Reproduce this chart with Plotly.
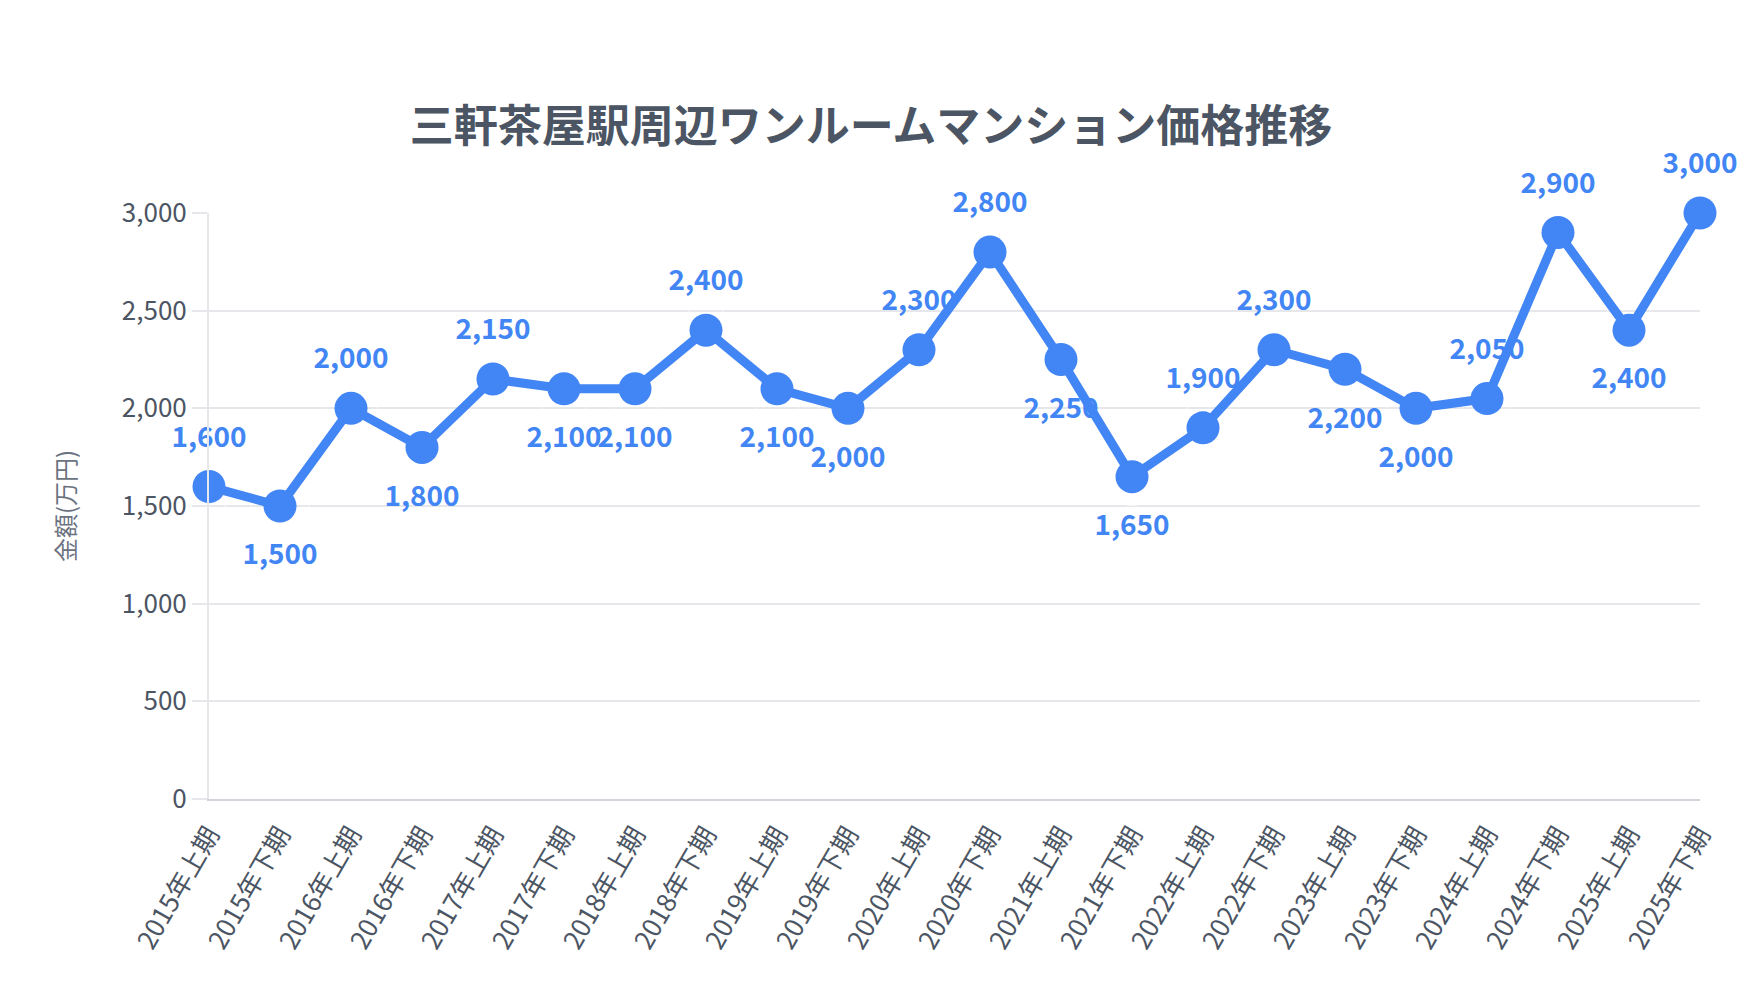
import plotly.graph_objects as go

periods = ["2015年上期", "2015年下期", "2016年上期", "2016年下期", "2017年上期", "2017年下期",
           "2018年上期", "2018年下期", "2019年上期", "2019年下期", "2020年上期", "2020年下期",
           "2021年上期", "2021年下期", "2022年上期", "2022年下期", "2023年上期", "2023年下期",
           "2024年上期", "2024年下期", "2025年上期", "2025年下期"]
prices = [1600, 1500, 2000, 1800, 2150, 2100, 2100, 2400, 2100, 2000, 2300, 2800,
          2250, 1650, 1900, 2300, 2200, 2000, 2050, 2900, 2400, 3000]
label_pos = ["top", "bottom", "top", "bottom", "top", "bottom", "bottom", "top", "bottom", "bottom",
             "top", "top", "bottom", "bottom", "top", "top", "bottom", "bottom", "top", "top",
             "bottom", "top"]
y_ticks = [0, 500, 1000, 1500, 2000, 2500, 3000]

title_text = "三軒茶屋駅周辺ワンルームマンション価格推移"
y_title = "金額(万円)"

FONT = "Noto Sans CJK JP"
BLUE = "#4285F4"

fig = go.Figure()

# data labels (drawn beneath the line)
fig.add_trace(go.Scatter(
    x=periods, y=prices,
    mode="markers+text",
    text=[f"{v:,}" for v in prices],
    textposition=[p + " center" for p in label_pos],
    textfont=dict(family=FONT, size=28, color=BLUE, weight="bold"),
    marker=dict(size=[51 if p == "top" else 58 for p in label_pos], color="rgba(0,0,0,0)"),
    hoverinfo="skip", showlegend=False, cliponaxis=False,
))

fig.add_trace(go.Scatter(
    x=periods, y=prices,
    mode="lines+markers",
    line=dict(color=BLUE, width=9),
    marker=dict(size=33, color=BLUE),
    showlegend=False, cliponaxis=False,
    hovertemplate="%{x}: %{y:,}万円<extra></extra>",
))

fig.update_layout(
    width=1760, height=1000,
    margin=dict(l=209, r=60, t=213, b=201),
    paper_bgcolor="white", plot_bgcolor="white",
    font=dict(family=FONT, color="#4b5563"),
    title=dict(text=title_text, x=871 / 1760, xref="container", xanchor="center",
               y=1 - 127 / 1000, yref="container", yanchor="middle",
               font=dict(family=FONT, size=44, color="#4b5563", weight="bold")),
    xaxis=dict(type="category", range=[0, len(periods) - 1], showgrid=False,
               showline=True, linecolor="#d1d5db", linewidth=2,
               tickangle=-60, tickfont=dict(family=FONT, size=26, color="#4b5563"),
               ticks="outside", ticklen=8, tickcolor="rgba(0,0,0,0)"),
    yaxis=dict(range=[0, 3000], tickvals=y_ticks, tickformat=",",
               showgrid=True, gridcolor="#e5e7eb", gridwidth=2,
               showline=True, linecolor="#e5e7eb", linewidth=2, zeroline=False,
               ticks="outside", ticklen=15, tickcolor="#e5e7eb", tickwidth=2,
               tickfont=dict(family=FONT, size=26, color="#4b5563")),
    annotations=[dict(text=y_title, xref="paper", yref="paper",
                      x=(64 - 209) / 1491, y=0.5, xanchor="center", yanchor="middle",
                      textangle=-90, showarrow=False,
                      font=dict(family=FONT, size=24, color="#6b7280"))],
)

fig.write_html("out.html")
